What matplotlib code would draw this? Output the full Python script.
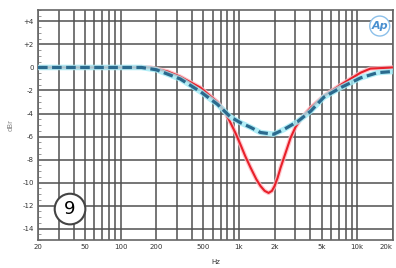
import numpy as np
import matplotlib
matplotlib.use("Agg")
import matplotlib.pyplot as plt
from matplotlib.ticker import FixedLocator, NullFormatter, MultipleLocator

# Datos
red_f = [20, 50, 100, 178, 250, 319, 472, 657, 760, 848, 940, 1030, 1130, 1253, 1400,
         1521, 1650, 1780, 1900, 2000, 2120, 2250, 2500, 2735, 3000, 3320, 4040,
         5200, 7260, 10700, 12900, 20000]
red_db = [0, 0, 0, 0, -0.35, -0.8, -1.75, -3.0, -3.85, -4.8, -5.75, -6.7, -7.7, -8.7, -9.7,
          -10.3, -10.72, -10.9, -10.72, -10.3, -9.6, -8.7, -7.3, -6.1, -5.2, -4.5, -3.5,
          -2.5, -1.5, -0.45, -0.1, 0]

blue_f = [20, 50, 100, 150, 200, 319, 472, 657, 848, 1030, 1253, 1521, 1966,
          2383, 3130, 4040, 5200, 7260, 10700, 14900, 20000]
blue_db = [0, 0, 0, 0, -0.2, -1.0, -2.1, -3.2, -4.3, -4.8, -5.2, -5.65, -5.8,
           -5.4, -4.7, -3.8, -2.6, -1.75, -0.9, -0.45, -0.35]

x_ticks = [20, 50, 100, 200, 500, 1000, 2000, 5000, 10000, 20000]
x_labels = ["20", "50", "100", "200", "500", "1k", "2k", "5k", "10k", "20k"]
y_ticks = [4, 2, 0, -2, -4, -6, -8, -10, -12, -14]
y_labels = ["+4", "+2", "0", "-2", "-4", "-6", "-8", "-10", "-12", "-14"]

fig = plt.figure(figsize=(3.96, 2.68), dpi=100)
ax = fig.add_axes([0.096, 0.104, 0.896, 0.859])

ax.set_xscale("log")
ax.set_xlim(20, 20000)
ax.set_ylim(-15, 5)

# rejilla logaritmica completa
grid_x = [m * 10**d for d in range(1, 5) for m in range(1, 10)]
grid_x = [g for g in grid_x if 20 <= g <= 20000]
for g in grid_x:
    ax.axvline(g, color="#505050", lw=1.1, zorder=1)
for g in y_ticks:
    ax.axhline(g, color="#505050", lw=1.1, zorder=1)

ax.xaxis.set_major_locator(FixedLocator(x_ticks))
ax.xaxis.set_minor_formatter(NullFormatter())
ax.set_xticks(x_ticks)
ax.set_xticklabels(x_labels)
ax.get_xticklabels()[-1].set_horizontalalignment("right")
ax.set_yticks(y_ticks)
ax.set_yticklabels(y_labels)
ax.yaxis.set_minor_locator(MultipleLocator(0.5))
ax.tick_params(axis="both", labelsize=5, colors="#333333", length=0, pad=3)
ax.tick_params(axis="y", which="minor", length=2, direction="in", color="#888888")
ax.tick_params(axis="x", which="minor", length=0)

for s in ax.spines.values():
    s.set_color("#666666")
    s.set_linewidth(1.2)

# curvas con halo
ax.plot(red_f, red_db, color="#ffb8c0", lw=3.2, alpha=0.8, zorder=3,
        solid_capstyle="round", solid_joinstyle="round")
ax.plot(red_f, red_db, color="#e8202a", lw=1.5, zorder=4, solid_joinstyle="round")
ax.plot(blue_f, blue_db, color="#9eeaf5", lw=4.0, alpha=0.8, zorder=5)
ax.plot(blue_f, blue_db, color="#2a6a8e", lw=2.3, dashes=(3, 1.4), zorder=6)

ax.set_xlabel("Hz", fontsize=5, color="#333333", labelpad=6)
ax.set_ylabel("dBr", fontsize=5, color="#888888", labelpad=6)

# numero en circulo
ax.text(37.3, -12.3, "9", fontsize=13, ha="center", va="center", zorder=8,
        bbox=dict(boxstyle="circle,pad=0.35", fc="white", ec="#444444", lw=1.5))
# logo
ax.text(15500, 3.6, "Ap", fontsize=8, style="italic", fontweight="bold",
        color="#4a90d0", ha="center", va="center", zorder=8,
        bbox=dict(boxstyle="circle,pad=0.15", fc="white", ec="#8cc0ea", lw=1.0))

fig.savefig("out.png", dpi=100, facecolor="white")
